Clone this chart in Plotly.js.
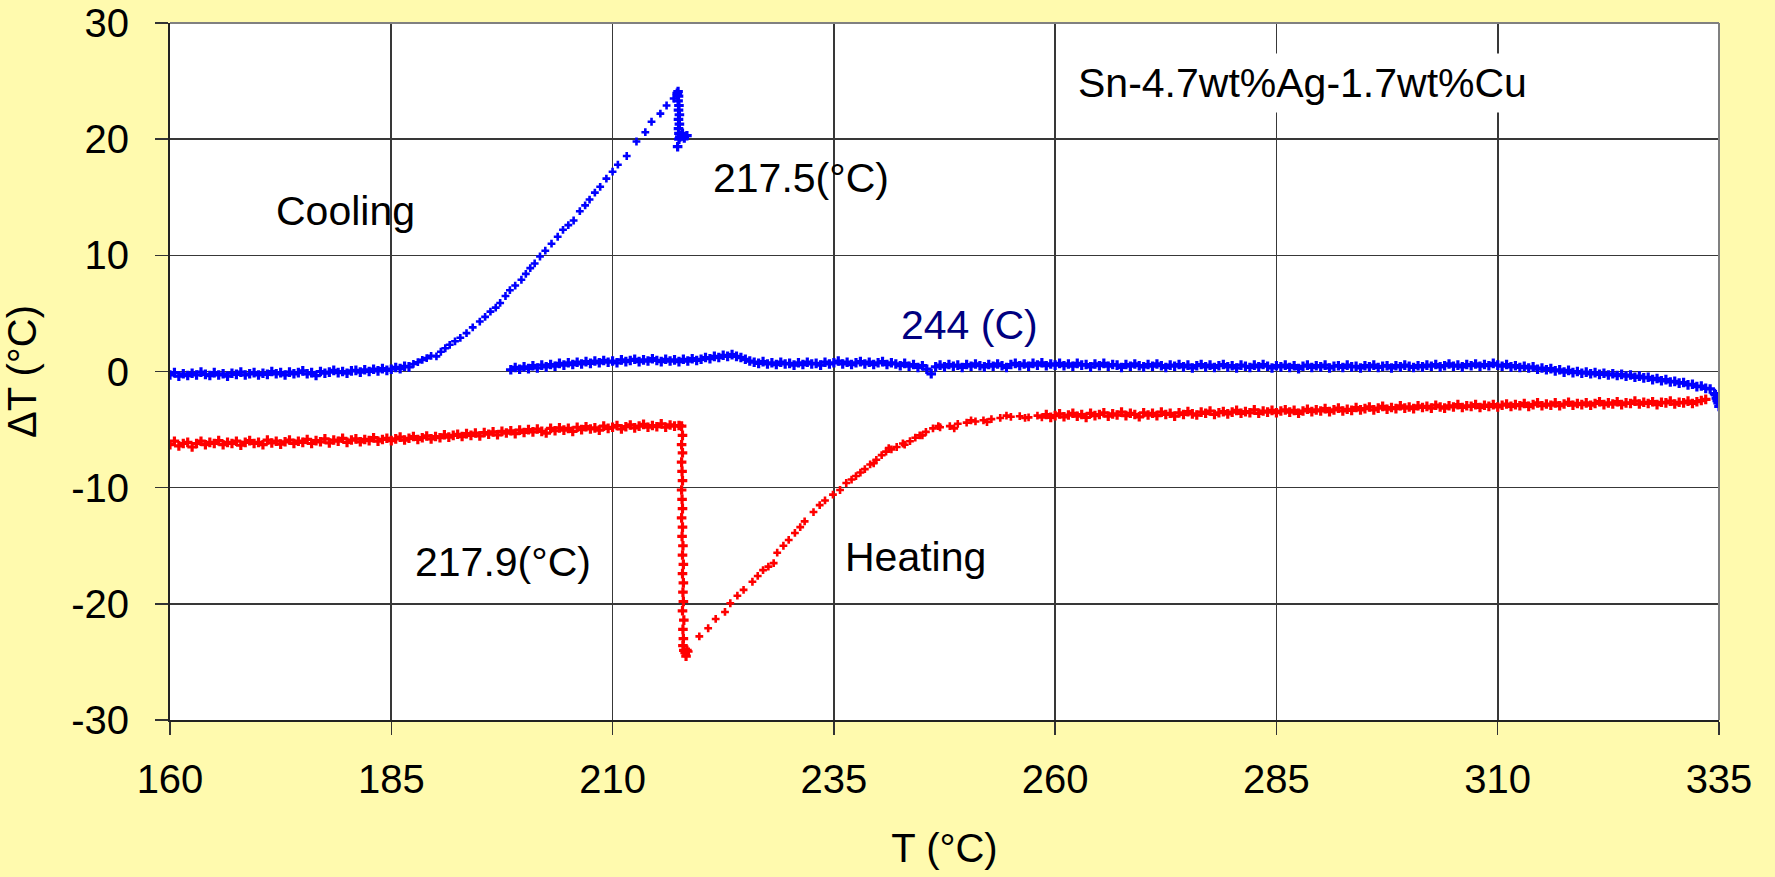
<!DOCTYPE html>
<html>
<head>
<meta charset="utf-8">
<script src="https://cdn.plot.ly/plotly-3.0.1.min.js"></script>
<style>html,body{margin:0;padding:0;background:#FFFAAE;}#chart{width:1775px;height:877px;}</style>
</head>
<body>
<div id="chart"></div>
<script>
// ---------- DATA ----------
// Heating curve, solid baseline before melting
const heatingBefore = [[160,-6.3],[160.5,-6.0],[161,-6.4],[161.5,-6.2],[162,-6.1],[162.5,-6.5],[163,-6.2],[163.5,-6.0],[164,-6.3],[164.5,-6.1],[165,-6.2],[165.5,-5.95],[166,-6.3],[166.5,-6.1],[167,-6.2],[167.5,-6.0],[168,-6.35],[168.5,-6.1],[169,-5.95],[169.5,-6.2],[170,-6.1],[170.5,-6.3],[171,-5.9],[171.5,-6.15],[172,-6.0],[172.5,-6.25],[173,-6.05],[173.5,-5.9],[174,-6.2],[174.5,-6.0],[175,-6.1],[175.5,-5.85],[176,-6.2],[176.5,-5.95],[177,-6.05],[177.5,-5.8],[178,-6.15],[178.5,-5.9],[179,-6.0],[179.5,-5.75],[180,-6.1],[180.5,-5.9],[181,-5.8],[181.5,-6.05],[182,-5.85],[182.5,-5.95],[183,-5.7],[183.5,-6.0],[184,-5.85],[184.5,-5.75],[185,-5.95],[185.5,-5.8],[186,-5.65],[186.5,-5.9],[187,-5.75],[187.5,-5.6],[188,-5.85],[188.5,-5.7],[189,-5.55],[189.5,-5.8],[190,-5.6],[190.5,-5.7],[191,-5.45],[191.5,-5.65],[192,-5.5],[192.5,-5.4],[193,-5.6],[193.5,-5.35],[194,-5.5],[194.5,-5.3],[195,-5.55],[195.5,-5.25],[196,-5.4],[196.5,-5.2],[197,-5.45],[197.5,-5.15],[198,-5.3],[198.5,-5.1],[199,-5.35],[199.5,-5.05],[200,-5.25],[200.5,-5.0],[201,-5.2],[201.5,-4.95],[202,-5.15],[202.5,-5.3],[203,-4.9],[203.5,-5.1],[204,-4.85],[204.5,-5.05],[205,-4.9],[205.5,-5.15],[206,-4.8],[206.5,-5.0],[207,-4.75],[207.5,-4.95],[208,-4.85],[208.5,-5.05],[209,-4.7],[209.5,-4.9],[210,-4.8],[210.5,-4.65],[211,-4.95],[211.5,-4.75],[212,-4.6],[212.5,-4.85],[213,-4.7],[213.5,-4.55],[214,-4.8],[214.5,-4.65],[215,-4.75],[215.5,-4.5],[216,-4.8],[216.5,-4.6],[217,-4.7],[217.5,-4.65]];
// Heating curve, melting drop at 217.9 °C
const heatingDrop = [[217.8,-4.7],[217.9,-5.5],[217.8,-6.3],[217.9,-7.0],[217.8,-7.8],[217.85,-8.6],[217.9,-9.4],[217.8,-10.2],[217.85,-11.0],[217.9,-11.8],[217.8,-12.6],[217.9,-13.4],[217.85,-14.2],[217.95,-15.0],[217.9,-15.8],[218.0,-16.6],[217.9,-17.4],[218.0,-18.2],[217.95,-19.0],[218.0,-19.8],[217.9,-20.6],[218.05,-21.4],[217.95,-22.2],[218.0,-23.0],[217.95,-23.6],[218.05,-24.0],[218.2,-24.2],[218.4,-24.0],[218.3,-24.5]];
// Heating curve, recovery after the peak
const heatingRecovery = [[218.6,-24.1],[219.8,-22.8],[220.8,-22.1],[221.65,-21.3],[222.7,-20.7],[223.3,-19.95],[224.1,-19.3],[224.8,-18.8],[225.8,-18.1],[226.4,-17.6],[227.0,-17.1],[227.6,-16.8],[228.2,-16.5],[228.6,-15.6],[229.3,-15.0],[229.9,-14.5],[230.6,-13.9],[231.2,-13.4],[231.7,-12.9],[232.7,-12.1],[233.4,-11.5],[234.0,-11.1],[234.9,-10.6],[235.7,-10.2],[236.4,-9.6],[237.0,-9.3],[237.5,-9.0],[238.0,-8.7],[238.5,-8.4],[239.1,-8.0],[239.5,-7.9],[239.8,-7.6],[240.4,-7.2],[240.9,-6.9],[241.2,-6.6],[241.5,-6.7],[242.1,-6.5],[242.8,-6.2],[243.0,-6.3],[243.6,-6.0],[244.2,-5.7],[244.7,-5.5],[245.0,-5.5],[245.4,-5.2],[246.2,-4.9],[246.8,-4.7],[247.0,-4.8],[248.1,-4.7],[248.6,-4.9],[249.0,-4.5],[250.0,-4.4],[250.5,-4.2],[251.0,-4.3],[251.9,-4.2],[252.3,-4.35],[252.8,-4.1],[253.8,-4.0],[254.5,-3.8],[255.0,-3.9],[256.0,-3.85],[256.6,-4.0],[257.0,-3.95],[258.0,-3.8],[258.5,-3.95]];
// Heating curve, liquid baseline
const heatingAfter = [[259,-3.7],[259.5,-3.95],[260,-3.8],[260.5,-3.65],[261,-3.9],[261.5,-3.75],[262,-3.6],[262.5,-3.85],[263,-3.7],[263.5,-3.95],[264,-3.6],[264.5,-3.8],[265,-3.7],[265.5,-3.55],[266,-3.85],[266.5,-3.65],[267,-3.75],[267.5,-3.5],[268,-3.8],[268.5,-3.6],[269,-3.7],[269.5,-3.9],[270,-3.55],[270.5,-3.75],[271,-3.6],[271.5,-3.8],[272,-3.5],[272.5,-3.7],[273,-3.6],[273.5,-3.85],[274,-3.55],[274.5,-3.7],[275,-3.45],[275.5,-3.65],[276,-3.75],[276.5,-3.5],[277,-3.6],[277.5,-3.4],[278,-3.7],[278.5,-3.55],[279,-3.45],[279.5,-3.65],[280,-3.5],[280.5,-3.35],[281,-3.6],[281.5,-3.45],[282,-3.55],[282.5,-3.3],[283,-3.6],[283.5,-3.4],[284,-3.5],[284.5,-3.35],[285,-3.55],[285.5,-3.4],[286,-3.3],[286.5,-3.5],[287,-3.35],[287.5,-3.6],[288,-3.4],[288.5,-3.25],[289,-3.45],[289.5,-3.3],[290,-3.4],[290.5,-3.2],[291,-3.45],[291.5,-3.3],[292,-3.15],[292.5,-3.4],[293,-3.25],[293.5,-3.35],[294,-3.1],[294.5,-3.3],[295,-3.2],[295.5,-3.05],[296,-3.3],[296.5,-3.15],[297,-3.0],[297.5,-3.25],[298,-3.1],[298.5,-3.2],[299,-2.95],[299.5,-3.15],[300,-3.05],[300.5,-3.2],[301,-2.95],[301.5,-3.1],[302,-3.0],[302.5,-3.15],[303,-2.9],[303.5,-3.05],[304,-3.15],[304.5,-2.95],[305,-3.05],[305.5,-2.85],[306,-3.1],[306.5,-2.95],[307,-3.0],[307.5,-2.85],[308,-3.1],[308.5,-2.9],[309,-3.0],[309.5,-2.85],[310,-3.05],[310.5,-2.9],[311,-2.8],[311.5,-3.0],[312,-2.85],[312.5,-2.95],[313,-2.75],[313.5,-3.0],[314,-2.85],[314.5,-2.7],[315,-2.95],[315.5,-2.8],[316,-2.9],[316.5,-2.7],[317,-2.95],[317.5,-2.8],[318,-2.65],[318.5,-2.9],[319,-2.75],[319.5,-2.85],[320,-2.7],[320.5,-2.9],[321,-2.75],[321.5,-2.6],[322,-2.85],[322.5,-2.7],[323,-2.8],[323.5,-2.6],[324,-2.85],[324.5,-2.7],[325,-2.75],[325.5,-2.55],[326,-2.8],[326.5,-2.65],[327,-2.75],[327.5,-2.6],[328,-2.85],[328.5,-2.65],[329,-2.7],[329.5,-2.55],[330,-2.8],[330.5,-2.65],[331,-2.7],[331.5,-2.55],[332,-2.75],[332.5,-2.6],[333,-2.5],[333.5,-2.4]];

// Cooling curve, liquid baseline (high T part)
const coolingLiquid = [[198.5,0.15],[199,0.35],[199.5,0.2],[200,0.4],[200.5,0.25],[201,0.5],[201.5,0.3],[202,0.55],[202.5,0.4],[203,0.6],[203.5,0.45],[204,0.7],[204.5,0.55],[205,0.75],[205.5,0.6],[206,0.8],[206.5,0.65],[207,0.85],[207.5,0.7],[208,0.9],[208.5,0.75],[209,0.95],[209.5,0.8],[210,0.9],[210.5,0.75],[211,1.0],[211.5,0.85],[212,0.95],[212.5,1.05],[213,0.85],[213.5,1.0],[214,0.9],[214.5,1.1],[215,0.95],[215.5,0.85],[216,1.05],[216.5,0.9],[217,1.0],[217.5,0.85],[218,1.05],[218.5,0.9],[219,1.1],[219.5,0.95],[220,1.05],[220.5,1.2],[221,1.1],[221.5,1.3],[222,1.2],[222.5,1.4],[223,1.3],[223.5,1.45],[224,1.3],[224.5,1.2],[225,1.05],[225.5,0.9],[226,0.8],[226.5,0.7],[227,0.85],[227.5,0.65],[228,0.75],[228.5,0.6],[229,0.8],[229.5,0.65],[230,0.7],[230.5,0.55],[231,0.75],[231.5,0.6],[232,0.8],[232.5,0.65],[233,0.7],[233.5,0.55],[234,0.8],[234.5,0.65],[235,0.75],[235.5,0.9],[236,0.65],[236.5,0.8],[237,0.6],[237.5,0.75],[238,0.85],[238.5,0.65],[239,0.8],[239.5,0.6],[240,0.75],[240.5,0.85],[241,0.6],[241.5,0.75],[242,0.65],[242.5,0.5],[243,0.7],[243.5,0.45],[244,0.6],[244.5,0.35],[245,0.5],[245.5,0.2],[246,-0.2],[246.5,0.4],[247,0.55],[247.5,0.4],[248,0.6],[248.5,0.45],[249,0.55],[249.5,0.35],[250,0.6],[250.5,0.45],[251,0.65],[251.5,0.5],[252,0.4],[252.5,0.6],[253,0.45],[253.5,0.65],[254,0.5],[254.5,0.35],[255,0.6],[255.5,0.7],[256,0.5],[256.5,0.65],[257,0.45],[257.5,0.7],[258,0.55],[258.5,0.75],[259,0.5],[259.5,0.65],[260,0.55],[260.5,0.7],[261,0.5],[261.5,0.65],[262,0.45],[262.5,0.7],[263,0.55],[263.5,0.6],[264,0.4],[264.5,0.65],[265,0.5],[265.5,0.7],[266,0.45],[266.5,0.6],[267,0.55],[267.5,0.35],[268,0.6],[268.5,0.45],[269,0.65],[269.5,0.5],[270,0.4],[270.5,0.6],[271,0.45],[271.5,0.65],[272,0.5],[272.5,0.35],[273,0.55],[273.5,0.45],[274,0.6],[274.5,0.4],[275,0.55],[275.5,0.3],[276,0.5],[276.5,0.6],[277,0.4],[277.5,0.55],[278,0.35],[278.5,0.5],[279,0.6],[279.5,0.4],[280,0.5],[280.5,0.3],[281,0.55],[281.5,0.45],[282,0.35],[282.5,0.55],[283,0.4],[283.5,0.6],[284,0.45],[284.5,0.3],[285,0.5],[285.5,0.4],[286,0.55],[286.5,0.35],[287,0.5],[287.5,0.25],[288,0.45],[288.5,0.55],[289,0.35],[289.5,0.5],[290,0.4],[290.5,0.55],[291,0.3],[291.5,0.45],[292,0.5],[292.5,0.35],[293,0.55],[293.5,0.4],[294,0.45],[294.5,0.3],[295,0.5],[295.5,0.4],[296,0.55],[296.5,0.35],[297,0.45],[297.5,0.5],[298,0.3],[298.5,0.5],[299,0.4],[299.5,0.55],[300,0.45],[300.5,0.35],[301,0.5],[301.5,0.4],[302,0.55],[302.5,0.45],[303,0.6],[303.5,0.4],[304,0.5],[304.5,0.65],[305,0.45],[305.5,0.55],[306,0.4],[306.5,0.6],[307,0.5],[307.5,0.65],[308,0.45],[308.5,0.6],[309,0.5],[309.5,0.7],[310,0.55],[310.5,0.45],[311,0.6],[311.5,0.4],[312,0.5],[312.5,0.35],[313,0.45],[313.5,0.3],[314,0.4],[314.5,0.2],[315,0.3],[315.5,0.15],[316,0.25],[316.5,0.05],[317,0.15],[317.5,-0.05],[318,0.1],[318.5,-0.1],[319,0.0],[319.5,-0.15],[320,-0.05],[320.5,-0.2],[321,-0.1],[321.5,-0.25],[322,-0.15],[322.5,-0.3],[323,-0.2],[323.5,-0.35],[324,-0.25],[324.5,-0.4],[325,-0.3],[325.5,-0.5],[326,-0.4],[326.5,-0.55],[327,-0.5],[327.5,-0.7],[328,-0.6],[328.5,-0.8],[329,-0.7],[329.5,-0.9],[330,-0.85],[330.5,-1.0],[331,-0.95],[331.5,-1.15],[332,-1.1],[332.5,-1.3],[333,-1.25],[333.5,-1.45],[334,-1.5],[334.5,-1.9],[334.7,-2.3],[334.9,-2.7],[335,-3.0],[334.8,-2.5],[334.6,-2.0]];
// Cooling curve, undercooling recalescence spike at 217.5 °C
const coolingSpike = [[217.3,23.95],[217.4,24.1],[217.45,23.7],[217.4,23.3],[217.5,22.9],[217.45,22.5],[217.55,22.1],[217.45,21.7],[217.55,21.3],[217.45,20.9],[217.5,20.5],[217.6,20.2],[217.8,20.3],[218.1,20.1],[218.4,20.3],[217.5,20.0],[217.35,19.35],[217.9,20.5]];
// Cooling curve, solidification ramp (sparse points)
const coolingRamp = [[187.5,0.65],[188,0.8],[188.5,1.0],[189,1.15],[189.5,1.35],[190.1,1.3],[190.6,1.7],[191.1,2.0],[191.6,2.3],[192.2,2.6],[192.8,2.9],[193.5,3.3],[194.2,3.8],[195.0,4.3],[195.6,4.7],[196.2,5.15],[196.8,5.5],[197.3,5.9],[197.9,6.5],[198.4,7.0],[199.0,7.4],[199.7,7.9],[200.2,8.4],[200.7,8.9],[201.2,9.3],[201.8,9.9],[202.4,10.4],[203.1,11.0],[203.8,11.6],[204.4,12.2],[205.0,12.6],[205.6,13.0],[206.3,13.8],[206.9,14.3],[207.4,14.8],[208.0,15.4],[208.6,15.9],[209.3,16.6],[210.0,17.2],[210.6,17.8],[211.6,18.55],[212.7,19.8],[213.7,20.6],[214.4,21.5],[215.4,22.2],[216.1,22.9],[216.9,23.5]];
// Cooling curve, solid baseline (low T part)
const coolingSolid = [[160,-0.3],[160.5,-0.1],[161,-0.4],[161.5,-0.2],[162,-0.35],[162.5,-0.15],[163,-0.3],[163.5,-0.05],[164,-0.25],[164.5,-0.35],[165,-0.1],[165.5,-0.3],[166,-0.2],[166.5,-0.4],[167,-0.15],[167.5,-0.25],[168,-0.05],[168.5,-0.3],[169,-0.2],[169.5,-0.1],[170,-0.3],[170.5,-0.15],[171,-0.25],[171.5,0.0],[172,-0.2],[172.5,-0.1],[173,-0.3],[173.5,-0.05],[174,-0.2],[174.5,-0.1],[175,0.05],[175.5,-0.2],[176,-0.1],[176.5,-0.35],[177,0.0],[177.5,-0.15],[178,-0.05],[178.5,0.1],[179,-0.1],[179.5,0.0],[180,-0.15],[180.5,0.05],[181,0.1],[181.5,-0.05],[182,0.15],[182.5,0.0],[183,0.2],[183.5,0.05],[184,0.25],[184.5,0.1],[185,0.2],[185.5,0.35],[186,0.25],[186.5,0.45],[187,0.4]];

const xTicks = [160, 185, 210, 235, 260, 285, 310, 335];
const yTicks = [-30, -20, -10, 0, 10, 20, 30];
const labels = [
  {text: 'Sn-4.7wt%Ag-1.7wt%Cu', x: 287.9, y: 24.85, box: true},
  {text: 'Cooling', x: 179.8, y: 13.85},
  {text: '217.5(°C)', x: 231.3, y: 16.7},
  {text: '244 (C)', x: 250.3, y: 4.0, navy: true},
  {text: '217.9(°C)', x: 197.6, y: -16.4},
  {text: 'Heating', x: 244.2, y: -16.0}
];

// ---------- CHART ----------
const FONT = 'Liberation Sans, Arial, Helvetica, sans-serif';
function tr(pairs, color, size) {
  return {
    type: 'scatter', mode: 'markers',
    x: pairs.map(p => p[0]), y: pairs.map(p => p[1]),
    marker: {symbol: 'cross', size: size, color: color, line: {width: 0}},
    showlegend: false, hoverinfo: 'x+y'
  };
}
const BLUE = 'rgb(0,0,255)', RED = 'rgb(255,0,0)';
const data = [
  tr(heatingBefore, RED, 8), tr(heatingDrop, RED, 8), tr(heatingRecovery, RED, 6.5), tr(heatingAfter, RED, 8),
  tr(coolingSolid, BLUE, 8), tr(coolingRamp, BLUE, 6.5), tr(coolingSpike, BLUE, 8), tr(coolingLiquid, BLUE, 8)
];

const layout = {
  width: 1775, height: 877,
  margin: {l: 170, r: 56, t: 23, b: 157},
  paper_bgcolor: '#FFFAAE', plot_bgcolor: '#FFFFFF',
  font: {family: FONT, color: '#000', size: 40},
  showlegend: false,
  xaxis: {
    range: [160, 335], tickvals: xTicks, ticktext: xTicks.map(String),
    showgrid: true, gridcolor: '#383838', gridwidth: 1.6, zeroline: false,
    ticks: 'outside', ticklen: 13, tickwidth: 1.5, tickcolor: '#333',
    showline: true, linecolor: '#222', linewidth: 2,
    tickfont: {family: FONT, size: 40, color: '#000'},
    ticklabelstandoff: 10,
    title: {text: 'T (°C)', font: {family: FONT, size: 40, color: '#000'}, standoff: 34},
    automargin: false
  },
  yaxis: {
    range: [-30, 30], tickvals: yTicks, ticktext: yTicks.map(String),
    showgrid: true, gridcolor: '#383838', gridwidth: 1.6, zeroline: false,
    ticks: 'outside', ticklen: 13, tickwidth: 1.5, tickcolor: '#333',
    showline: true, linecolor: '#222', linewidth: 2,
    tickfont: {family: FONT, size: 40, color: '#000'},
    ticklabelstandoff: 18,
    title: {text: 'ΔT (°C)', font: {family: FONT, size: 40, color: '#000'}, standoff: 25},
    automargin: false
  },
  shapes: [
    {type: 'line', xref: 'paper', yref: 'paper', x0: 0, x1: 1, y0: 1, y1: 1, line: {color: '#808080', width: 2}},
    {type: 'line', xref: 'paper', yref: 'paper', x0: 1, x1: 1, y0: 0, y1: 1, line: {color: '#808080', width: 2}}
  ],
  annotations: labels.map(l => ({
    text: l.text, x: l.x, y: l.y, xref: 'x', yref: 'y',
    xanchor: 'center', yanchor: 'middle', showarrow: false,
    font: {family: FONT, size: 41, color: l.navy ? '#000080' : '#000'},
    bgcolor: l.box ? '#FFFFFF' : 'rgba(0,0,0,0)', borderpad: l.box ? 6 : 0
  }))
};

Plotly.newPlot('chart', data, layout, {staticPlot: true, displayModeBar: false});
</script>
</body>
</html>
